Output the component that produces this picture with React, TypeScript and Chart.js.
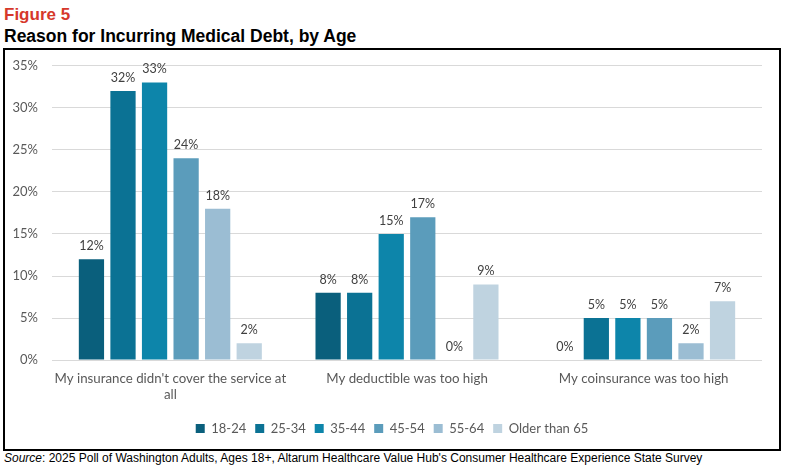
import { useEffect, useRef } from 'react'
import { Chart, registerables } from 'chart.js'

Chart.register(...registerables)

const categories: (string | string[])[] = [
  ["My insurance didn't cover the service at", 'all'],
  'My deductible was too high',
  'My coinsurance was too high',
]

const ageGroups = ['18-24', '25-34', '35-44', '45-54', '55-64', 'Older than 65']

const age18to24 = [12, 8, 0]
const age25to34 = [32, 8, 5]
const age35to44 = [33, 15, 5]
const age45to54 = [24, 17, 5]
const age55to64 = [18, 0, 2]
const age65plus = [2, 9, 7]

const seriesValues = [age18to24, age25to34, age35to44, age45to54, age55to64, age65plus]
const seriesColors = ['#0a5f7c', '#0b7294', '#0d85aa', '#5b9cbb', '#9bbdd3', '#bfd3e0']

const yTicks = [0, 5, 10, 15, 20, 25, 30, 35]

const FONT = 'Lato, "Open Sans", sans-serif'

// draws the value above each bar
const valueLabels = {
  id: 'valueLabels',
  afterDatasetsDraw(chart: Chart) {
    const ctx = chart.ctx
    ctx.save()
    ctx.font = `12.5px ${FONT}`
    ctx.fillStyle = '#404040'
    ctx.textAlign = 'center'
    ctx.textBaseline = 'bottom'
    chart.data.datasets.forEach((ds, i) => {
      const meta = chart.getDatasetMeta(i)
      meta.data.forEach((bar: any, j) => {
        ctx.fillText(`${ds.data[j]}%`, bar.x, bar.y - 7)
      })
    })
    ctx.restore()
  },
}

function MedicalDebtChart() {
  const chartRef = useRef<HTMLCanvasElement>(null)
  const chartInstance = useRef<Chart<'bar'> | null>(null)

  useEffect(() => {
    if (!chartRef.current) return
    if (chartInstance.current) chartInstance.current.destroy()

    chartInstance.current = new Chart(chartRef.current, {
      type: 'bar',
      data: {
        labels: categories,
        datasets: ageGroups.map((name, i) => ({
          label: name,
          data: seriesValues[i],
          backgroundColor: seriesColors[i],
          categoryPercentage: 0.8,
          barPercentage: 0.8,
        })),
      },
      options: {
        responsive: true,
        maintainAspectRatio: false,
        animation: false,
        layout: { padding: { top: 0, right: 0, left: 0, bottom: 4 } },
        plugins: {
          legend: {
            position: 'bottom',
            labels: {
              boxWidth: 9,
              boxHeight: 9,
              padding: 9,
              color: '#595959',
              font: { family: FONT, size: 13 },
            },
          },
          tooltip: { enabled: false },
        },
        scales: {
          x: {
            grid: { display: false },
            border: { display: false },
            afterFit: (axis) => {
              axis.height += 7
            },
            ticks: {
              color: '#595959',
              font: { family: FONT, size: 13.3 },
              maxRotation: 0,
              padding: 3,
            },
          },
          y: {
            min: 0,
            max: 35,
            afterBuildTicks: (axis) => {
              axis.ticks = yTicks.map((v) => ({ value: v }))
            },
            afterFit: (axis) => {
              axis.width = 47
            },
            grid: { color: '#d9d9d9', lineWidth: 1, drawTicks: false },
            border: { display: false },
            ticks: {
              color: '#595959',
              font: { family: FONT, size: 13 },
              padding: 14,
              callback: (v) => `${v}%`,
            },
          },
          // empty spacer on the right so the legend stays centred on the box
          spacer: {
            type: 'linear',
            position: 'right',
            grid: { display: false, drawTicks: false },
            border: { display: false },
            ticks: { display: false },
            afterFit: (axis) => {
              axis.width = 17
            },
          },
        },
      },
      plugins: [valueLabels],
    })

    return () => {
      if (chartInstance.current) {
        chartInstance.current.destroy()
        chartInstance.current = null
      }
    }
  }, [])

  return <canvas ref={chartRef}></canvas>
}

export default function App() {
  return (
    <div
      style={{
        position: 'fixed',
        left: 0,
        top: 0,
        width: 786,
        height: 471,
        overflow: 'hidden',
        background: '#fff',
        fontFamily: '"Liberation Sans", Arial, sans-serif',
      }}
    >
      <div
        style={{
          position: 'absolute',
          left: 4,
          top: 5,
          fontSize: 17,
          fontWeight: 'bold',
          color: '#d6382b',
        }}
      >
        Figure 5
      </div>
      <div
        style={{
          position: 'absolute',
          left: 4,
          top: 26,
          fontSize: 17.5,
          fontWeight: 'bold',
          color: '#000',
        }}
      >
        Reason for Incurring Medical Debt, by Age
      </div>
      <div
        style={{
          position: 'absolute',
          left: 3,
          top: 48,
          width: 774,
          height: 399,
          border: '2px solid #000',
        }}
      />
      <div style={{ position: 'absolute', left: 5, top: 44, width: 774, height: 405 }}>
        <MedicalDebtChart />
      </div>
      <div
        style={{
          position: 'absolute',
          left: 4,
          top: 451,
          fontSize: 12,
          color: '#000',
          whiteSpace: 'nowrap',
        }}
      >
        <i>Source</i>: 2025 Poll of Washington Adults, Ages 18+, Altarum Healthcare Value Hub's Consumer Healthcare
        Experience State Survey
      </div>
    </div>
  )
}
